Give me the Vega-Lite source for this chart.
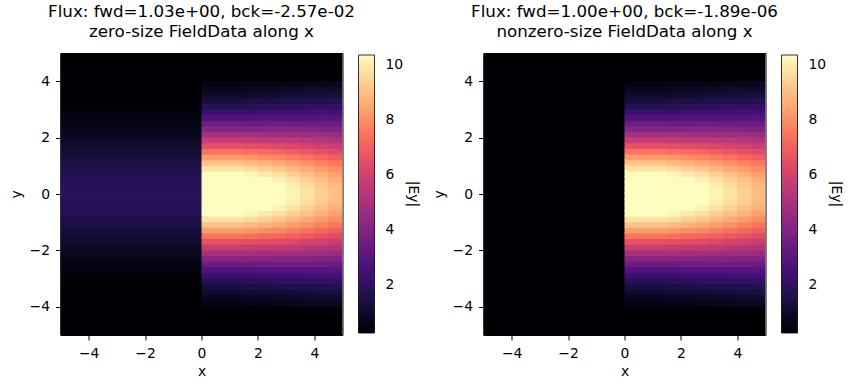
{
  "$schema": "https://vega.github.io/schema/vega-lite/v6.json",
  "background": "white",
  "padding": {"left": 8.5, "top": 3, "right": 5, "bottom": 5},
  "config": {
    "font": "DejaVu Sans",
    "view": {"stroke": "#000", "strokeWidth": 1},
    "axis": {
      "labelFont": "DejaVu Sans", "labelFontSize": 13.9, "labelColor": "#000",
      "tickColor": "#000", "domainColor": "#000", "tickSize": 5, "tickWidth": 1,
      "labelPadding": 6, "titleFont": "DejaVu Sans", "titleFontSize": 13.9,
      "titleFontWeight": "normal", "titleColor": "#000", "titlePadding": 5, "grid": false
    },
    "axisY": {"titlePadding": 6},
    "title": {"font": "DejaVu Sans", "fontSize": 16.7, "fontWeight": "normal", "color": "#000", "lineHeight": 20, "offset": 12, "frame": "group", "anchor": "middle"},
    "legend": {
      "orient": "none", "legendX": 298, "legendY": 2, "padding": 0,
      "direction": "vertical", "gradientLength": 278, "gradientThickness": 16,
      "gradientStrokeColor": "#000", "gradientStrokeWidth": 0.8,
      "labelFont": "DejaVu Sans", "labelFontSize": 13.9, "labelColor": "#000",
      "labelOverlap": false,
      "titleFont": "DejaVu Sans", "titleFontSize": 13.9, "titleFontWeight": "normal", "titleColor": "#000"
    }
  },
  "datasets": {
    "cols": [
      {"col": "L", "x": -5, "x2": 0.04},
      {"col": "k0", "x": 0, "x2": 1.54},
      {"col": "k1", "x": 1.5, "x2": 2.04},
      {"col": "k2", "x": 2, "x2": 2.54},
      {"col": "k3", "x": 2.5, "x2": 3.04},
      {"col": "k4", "x": 3, "x2": 3.54},
      {"col": "k5", "x": 3.5, "x2": 4.04},
      {"col": "k6", "x": 4, "x2": 4.54},
      {"col": "k7", "x": 4.5, "x2": 5}
    ],
    "bands": [
      {"y": -5.0, "y2": -4.76, "L": 0.02, "k0": 0, "k1": 0, "k2": 0, "k3": 0, "k4": 0, "k5": 0, "k6": 0, "k7": 0},
      {"y": -4.8, "y2": -4.56, "L": 0.03, "k0": 0, "k1": 0, "k2": 0, "k3": 0, "k4": 0, "k5": 0, "k6": 0, "k7": 0},
      {"y": -4.6, "y2": -4.36, "L": 0.05, "k0": 0, "k1": 0, "k2": 0, "k3": 0, "k4": 0, "k5": 0, "k6": 0, "k7": 0},
      {"y": -4.4, "y2": -4.16, "L": 0.07, "k0": 0, "k1": 0, "k2": 0, "k3": 0, "k4": 0, "k5": 0, "k6": 0, "k7": 0},
      {"y": -4.2, "y2": -3.96, "L": 0.09, "k0": 0, "k1": 0, "k2": 0, "k3": 0, "k4": 0, "k5": 0, "k6": 0, "k7": 0},
      {"y": -4.0, "y2": -3.76, "L": 0.12, "k0": 0.60, "k1": 0.63, "k2": 0.66, "k3": 0.71, "k4": 0.75, "k5": 0.78, "k6": 0.82, "k7": 0.87},
      {"y": -3.8, "y2": -3.56, "L": 0.16, "k0": 0.81, "k1": 0.84, "k2": 0.88, "k3": 0.93, "k4": 0.97, "k5": 1.01, "k6": 1.05, "k7": 1.09},
      {"y": -3.6, "y2": -3.36, "L": 0.21, "k0": 1.07, "k1": 1.11, "k2": 1.14, "k3": 1.20, "k4": 1.24, "k5": 1.28, "k6": 1.32, "k7": 1.36},
      {"y": -3.4, "y2": -3.16, "L": 0.27, "k0": 1.39, "k1": 1.43, "k2": 1.47, "k3": 1.53, "k4": 1.57, "k5": 1.61, "k6": 1.65, "k7": 1.68},
      {"y": -3.2, "y2": -2.96, "L": 0.32, "k0": 1.78, "k1": 1.82, "k2": 1.86, "k3": 1.92, "k4": 1.95, "k5": 1.99, "k6": 2.02, "k7": 2.05},
      {"y": -3.0, "y2": -2.76, "L": 0.40, "k0": 2.25, "k1": 2.28, "k2": 2.32, "k3": 2.37, "k4": 2.40, "k5": 2.43, "k6": 2.45, "k7": 2.47},
      {"y": -2.8, "y2": -2.56, "L": 0.50, "k0": 2.80, "k1": 2.82, "k2": 2.85, "k3": 2.90, "k4": 2.91, "k5": 2.92, "k6": 2.93, "k7": 2.93},
      {"y": -2.6, "y2": -2.36, "L": 0.60, "k0": 3.42, "k1": 3.44, "k2": 3.45, "k3": 3.49, "k4": 3.48, "k5": 3.47, "k6": 3.46, "k7": 3.44},
      {"y": -2.4, "y2": -2.16, "L": 0.72, "k0": 4.12, "k1": 4.12, "k2": 4.12, "k3": 4.13, "k4": 4.11, "k5": 4.07, "k6": 4.03, "k7": 3.99},
      {"y": -2.2, "y2": -1.96, "L": 0.83, "k0": 4.89, "k1": 4.87, "k2": 4.84, "k3": 4.83, "k4": 4.78, "k5": 4.71, "k6": 4.64, "k7": 4.56},
      {"y": -2.0, "y2": -1.76, "L": 0.97, "k0": 5.71, "k1": 5.66, "k2": 5.61, "k3": 5.57, "k4": 5.48, "k5": 5.38, "k6": 5.28, "k7": 5.16},
      {"y": -1.8, "y2": -1.56, "L": 1.10, "k0": 6.56, "k1": 6.49, "k2": 6.40, "k3": 6.34, "k4": 6.20, "k5": 6.07, "k6": 5.92, "k7": 5.77},
      {"y": -1.6, "y2": -1.36, "L": 1.24, "k0": 7.43, "k1": 7.32, "k2": 7.20, "k3": 7.10, "k4": 6.93, "k5": 6.75, "k6": 6.56, "k7": 6.36},
      {"y": -1.4, "y2": -1.16, "L": 1.36, "k0": 8.29, "k1": 8.14, "k2": 7.99, "k3": 7.85, "k4": 7.63, "k5": 7.40, "k6": 7.17, "k7": 6.94},
      {"y": -1.2, "y2": -0.96, "L": 1.49, "k0": 9.09, "k1": 8.91, "k2": 8.72, "k3": 8.55, "k4": 8.28, "k5": 8.02, "k6": 7.75, "k7": 7.47},
      {"y": -1.0, "y2": -0.76, "L": 1.60, "k0": 9.83, "k1": 9.61, "k2": 9.39, "k3": 9.18, "k4": 8.87, "k5": 8.57, "k6": 8.26, "k7": 7.94},
      {"y": -0.8, "y2": -0.56, "L": 1.70, "k0": 10.46, "k1": 10.21, "k2": 9.96, "k3": 9.71, "k4": 9.38, "k5": 9.03, "k6": 8.69, "k7": 8.35},
      {"y": -0.6, "y2": -0.36, "L": 1.77, "k0": 10.96, "k1": 10.68, "k2": 10.41, "k3": 10.14, "k4": 9.77, "k5": 9.40, "k6": 9.03, "k7": 8.66},
      {"y": -0.4, "y2": -0.16, "L": 1.82, "k0": 11.30, "k1": 11.01, "k2": 10.72, "k3": 10.43, "k4": 10.04, "k5": 9.65, "k6": 9.27, "k7": 8.88},
      {"y": -0.2, "y2": 0.04, "L": 1.85, "k0": 11.48, "k1": 11.18, "k2": 10.88, "k3": 10.58, "k4": 10.18, "k5": 9.78, "k6": 9.38, "k7": 8.99},
      {"y": 0.0, "y2": 0.24, "L": 1.85, "k0": 11.48, "k1": 11.18, "k2": 10.88, "k3": 10.58, "k4": 10.18, "k5": 9.78, "k6": 9.38, "k7": 8.99},
      {"y": 0.2, "y2": 0.44, "L": 1.82, "k0": 11.30, "k1": 11.01, "k2": 10.72, "k3": 10.43, "k4": 10.04, "k5": 9.65, "k6": 9.27, "k7": 8.88},
      {"y": 0.4, "y2": 0.64, "L": 1.77, "k0": 10.96, "k1": 10.68, "k2": 10.41, "k3": 10.14, "k4": 9.77, "k5": 9.40, "k6": 9.03, "k7": 8.66},
      {"y": 0.6, "y2": 0.84, "L": 1.70, "k0": 10.46, "k1": 10.21, "k2": 9.96, "k3": 9.71, "k4": 9.38, "k5": 9.03, "k6": 8.69, "k7": 8.35},
      {"y": 0.8, "y2": 1.04, "L": 1.60, "k0": 9.83, "k1": 9.61, "k2": 9.39, "k3": 9.18, "k4": 8.87, "k5": 8.57, "k6": 8.26, "k7": 7.94},
      {"y": 1.0, "y2": 1.24, "L": 1.49, "k0": 9.09, "k1": 8.91, "k2": 8.72, "k3": 8.55, "k4": 8.28, "k5": 8.02, "k6": 7.75, "k7": 7.47},
      {"y": 1.2, "y2": 1.44, "L": 1.36, "k0": 8.29, "k1": 8.14, "k2": 7.99, "k3": 7.85, "k4": 7.63, "k5": 7.40, "k6": 7.17, "k7": 6.94},
      {"y": 1.4, "y2": 1.64, "L": 1.24, "k0": 7.43, "k1": 7.32, "k2": 7.20, "k3": 7.10, "k4": 6.93, "k5": 6.75, "k6": 6.56, "k7": 6.36},
      {"y": 1.6, "y2": 1.84, "L": 1.10, "k0": 6.56, "k1": 6.49, "k2": 6.40, "k3": 6.34, "k4": 6.20, "k5": 6.07, "k6": 5.92, "k7": 5.77},
      {"y": 1.8, "y2": 2.04, "L": 0.97, "k0": 5.71, "k1": 5.66, "k2": 5.61, "k3": 5.57, "k4": 5.48, "k5": 5.38, "k6": 5.28, "k7": 5.16},
      {"y": 2.0, "y2": 2.24, "L": 0.83, "k0": 4.89, "k1": 4.87, "k2": 4.84, "k3": 4.83, "k4": 4.78, "k5": 4.71, "k6": 4.64, "k7": 4.56},
      {"y": 2.2, "y2": 2.44, "L": 0.72, "k0": 4.12, "k1": 4.12, "k2": 4.12, "k3": 4.13, "k4": 4.11, "k5": 4.07, "k6": 4.03, "k7": 3.99},
      {"y": 2.4, "y2": 2.64, "L": 0.60, "k0": 3.42, "k1": 3.44, "k2": 3.45, "k3": 3.49, "k4": 3.48, "k5": 3.47, "k6": 3.46, "k7": 3.44},
      {"y": 2.6, "y2": 2.84, "L": 0.50, "k0": 2.80, "k1": 2.82, "k2": 2.85, "k3": 2.90, "k4": 2.91, "k5": 2.92, "k6": 2.93, "k7": 2.93},
      {"y": 2.8, "y2": 3.04, "L": 0.40, "k0": 2.25, "k1": 2.28, "k2": 2.32, "k3": 2.37, "k4": 2.40, "k5": 2.43, "k6": 2.45, "k7": 2.47},
      {"y": 3.0, "y2": 3.24, "L": 0.32, "k0": 1.78, "k1": 1.82, "k2": 1.86, "k3": 1.92, "k4": 1.95, "k5": 1.99, "k6": 2.02, "k7": 2.05},
      {"y": 3.2, "y2": 3.44, "L": 0.27, "k0": 1.39, "k1": 1.43, "k2": 1.47, "k3": 1.53, "k4": 1.57, "k5": 1.61, "k6": 1.65, "k7": 1.68},
      {"y": 3.4, "y2": 3.64, "L": 0.21, "k0": 1.07, "k1": 1.11, "k2": 1.14, "k3": 1.20, "k4": 1.24, "k5": 1.28, "k6": 1.32, "k7": 1.36},
      {"y": 3.6, "y2": 3.84, "L": 0.16, "k0": 0.81, "k1": 0.84, "k2": 0.88, "k3": 0.93, "k4": 0.97, "k5": 1.01, "k6": 1.05, "k7": 1.09},
      {"y": 3.8, "y2": 4.04, "L": 0.12, "k0": 0.60, "k1": 0.63, "k2": 0.66, "k3": 0.71, "k4": 0.75, "k5": 0.78, "k6": 0.82, "k7": 0.87},
      {"y": 4.0, "y2": 4.24, "L": 0.09, "k0": 0, "k1": 0, "k2": 0, "k3": 0, "k4": 0, "k5": 0, "k6": 0, "k7": 0},
      {"y": 4.2, "y2": 4.44, "L": 0.07, "k0": 0, "k1": 0, "k2": 0, "k3": 0, "k4": 0, "k5": 0, "k6": 0, "k7": 0},
      {"y": 4.4, "y2": 4.64, "L": 0.05, "k0": 0, "k1": 0, "k2": 0, "k3": 0, "k4": 0, "k5": 0, "k6": 0, "k7": 0},
      {"y": 4.6, "y2": 4.84, "L": 0.03, "k0": 0, "k1": 0, "k2": 0, "k3": 0, "k4": 0, "k5": 0, "k6": 0, "k7": 0},
      {"y": 4.8, "y2": 5.0, "L": 0.02, "k0": 0, "k1": 0, "k2": 0, "k3": 0, "k4": 0, "k5": 0, "k6": 0, "k7": 0}
    ],
    "empty": [{"x": -5, "x2": 0.04, "y": -5, "y2": 5, "v": 0}]
  },
  "spacing": 141,
  "bounds": "flush",
  "resolve": {"scale": {"color": "independent"}},
  "hconcat": [
    {
      "title": {"text": ["Flux: fwd=1.03e+00, bck=-2.57e-02", "zero-size FieldData along x"]},
      "width": 282,
      "height": 282,
      "data": {"name": "bands"},
      "transform": [
        {"fold": ["L", "k0", "k1", "k2", "k3", "k4", "k5", "k6", "k7"], "as": ["col", "v"]},
        {"lookup": "col", "from": {"data": {"name": "cols"}, "key": "col", "fields": ["x", "x2"]}}
      ],
      "mark": {"type": "rect", "clip": true},
      "encoding": {
        "x": {"field": "x", "type": "quantitative", "scale": {"domain": [-5, 5], "nice": false, "zero": false}, "axis": {"values": [-4, -2, 0, 2, 4], "title": "x"}},
        "x2": {"field": "x2"},
        "y": {"field": "y", "type": "quantitative", "scale": {"domain": [-5, 5], "nice": false, "zero": false}, "axis": {"values": [-4, -2, 0, 2, 4], "title": "y"}},
        "y2": {"field": "y2"},
        "color": {"field": "v", "type": "quantitative", "scale": {"scheme": "magma", "domain": [0.25, 10.36], "clamp": true}, "legend": {"type": "gradient", "title": "|Ey|", "values": [2, 4, 6, 8, 10], "labelOffset": 11, "titleOrient": "right", "titleAngle": 270, "titleAnchor": "middle", "titleBaseline": "middle", "titlePadding": 9}}
      }
    },
    {
      "title": {"text": ["Flux: fwd=1.00e+00, bck=-1.89e-06", "nonzero-size FieldData along x"]},
      "width": 282,
      "height": 282,
      "layer": [
        {
          "data": {"name": "empty"},
          "mark": {"type": "rect", "clip": true},
          "encoding": {
            "x": {"field": "x", "type": "quantitative", "scale": {"domain": [-5, 5], "nice": false, "zero": false}, "axis": {"values": [-4, -2, 0, 2, 4], "title": "x"}},
            "x2": {"field": "x2"},
            "y": {"field": "y", "type": "quantitative", "scale": {"domain": [-5, 5], "nice": false, "zero": false}, "axis": {"values": [-4, -2, 0, 2, 4], "title": "y"}},
            "y2": {"field": "y2"},
            "color": {"field": "v", "type": "quantitative", "scale": {"scheme": "magma", "domain": [0.25, 10.36], "clamp": true}, "legend": {"type": "gradient", "title": "|Ey|", "values": [2, 4, 6, 8, 10], "labelOffset": 11, "titleOrient": "right", "titleAngle": 270, "titleAnchor": "middle", "titleBaseline": "middle", "titlePadding": 9}}
          }
        },
        {
          "data": {"name": "bands"},
          "transform": [
            {"fold": ["k0", "k1", "k2", "k3", "k4", "k5", "k6", "k7"], "as": ["col", "v"]},
            {"lookup": "col", "from": {"data": {"name": "cols"}, "key": "col", "fields": ["x", "x2"]}}
          ],
          "mark": {"type": "rect", "clip": true},
          "encoding": {
            "x": {"field": "x", "type": "quantitative"},
            "x2": {"field": "x2"},
            "y": {"field": "y", "type": "quantitative"},
            "y2": {"field": "y2"},
            "color": {"field": "v", "type": "quantitative"}
          }
        }
      ]
    }
  ]
}
